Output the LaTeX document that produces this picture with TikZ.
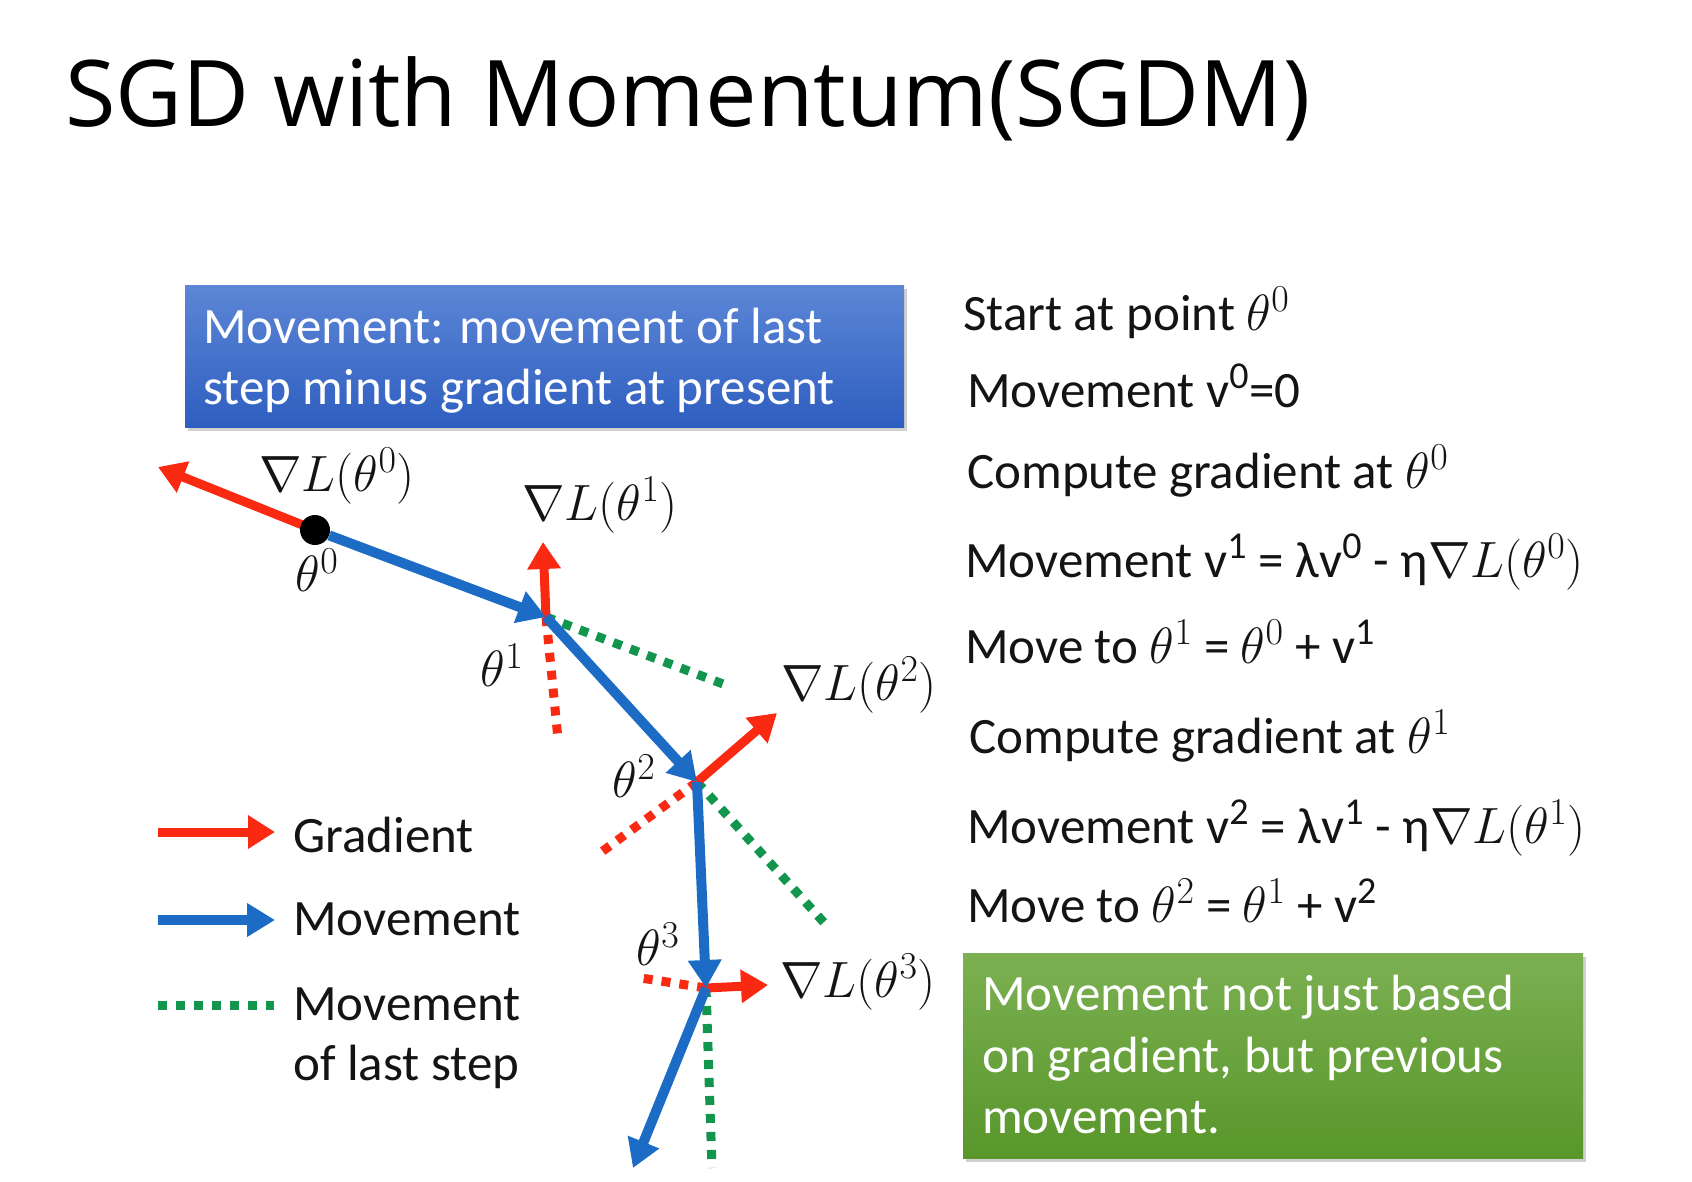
\RequirePackage{fix-cm}
\documentclass[tikz,border=0pt]{standalone}
\usepackage[no-math]{fontspec}
\setmainfont{Carlito}
\newfontfamily\titlefont{Open Sans}
\DeclareMathSizes{51}{51}{38}{30}
\usetikzlibrary{arrows.meta,shadows}
\definecolor{gred}{RGB}{250,42,18}
\definecolor{mblue}{RGB}{28,108,198}
\definecolor{lgreen}{RGB}{18,150,78}
\definecolor{boxblueT}{RGB}{92,134,214}
\definecolor{boxblueB}{RGB}{46,94,192}
\definecolor{boxgreenT}{RGB}{124,176,82}
\definecolor{boxgreenB}{RGB}{88,150,42}
\begin{document}
\begin{tikzpicture}[x=1pt,y=-1pt,
  body/.style={font=\fontsize{51}{61}\selectfont, inner sep=0pt, anchor=base west, text=black!92},
  wbody/.style={body, text=white},
  lab/.style={font=\fontsize{51}{61}\selectfont, inner sep=0pt, text=black!92},
  grad/.style={draw=gred, line width=9pt, -{Triangle[width=32pt,length=27pt]}},
  mov/.style={draw=mblue, line width=10pt, -{Triangle[width=32pt,length=28pt]}},
  last/.style={draw=lgreen, line width=9pt, dash pattern=on 9pt off 9pt},
  ngrad/.style={draw=gred, line width=9pt, dash pattern=on 9pt off 9pt},
  slidebox/.style={inner sep=0pt, anchor=north west,
    drop shadow={shadow xshift=3pt, shadow yshift=-4pt, opacity=0.3, fill=black!60}},
]
\fill[white] (0,0) rectangle (1692,1181);
\useasboundingbox (0,0) rectangle (1692,1181);

% title
\node[anchor=base west, inner sep=0pt, font=\titlefont\fontsize{92}{106}\selectfont] (title) at (65,126) {SGD with Momentum(SGDM)};

% blue box
\node[slidebox, minimum width=719pt, minimum height=142pt, top color=boxblueT, bottom color=boxblueB] (mbox) at (185,285) {};
\node[wbody] (mbox1) at (203,343) {Movement: movement of last};
\node[wbody] (mbox2) at (203,404) {step minus gradient at present};

% green box
\node[slidebox, minimum width=620pt, minimum height=205pt, top color=boxgreenT, bottom color=boxgreenB] (gbox) at (963,953) {};
\node[wbody] (gbox1) at (982,1010) {Movement not just based};
\node[wbody] (gbox2) at (982,1072) {on gradient, but previous};
\node[wbody] (gbox3) at (982,1133) {movement.};

% right-hand steps
\node[body] (s1) at (963,330) {Start at point $\theta^0$};
\node[body] (s2) at (967,407) {Movement v\textsuperscript{0}=0};
\node[body] (s3) at (967,488) {Compute gradient at $\theta^0$};
\node[body] (s4) at (965,577) {Movement v\textsuperscript{1} = λv\textsuperscript{0} - η$\nabla L(\theta^0)$};
\node[body] (s5) at (965,663) {Move to $\theta^1$ = $\theta^0$ + v\textsuperscript{1}};
\node[body] (s6) at (969,753) {Compute gradient at $\theta^1$};
\node[body] (s7) at (967,843) {Movement v\textsuperscript{2} = λv\textsuperscript{1} - η$\nabla L(\theta^1)$};
\node[body] (s8) at (967,922) {Move to $\theta^2$ = $\theta^1$ + v\textsuperscript{2}};

% trajectory points
\coordinate (c0) at (315,530);
\coordinate (p1) at (546,617);
\coordinate (p2) at (697,782);
\coordinate (p3) at (706,988);
\coordinate (g0) at (158,467);
\coordinate (g1) at (543,542);
\coordinate (g2) at (777,713);
\coordinate (g3) at (768,985);
\coordinate (r1) at (558,739);
\coordinate (r2) at (596,856);
\coordinate (r3) at (641,978);
\coordinate (m1) at (723,684);
\coordinate (m2) at (828,927);
\coordinate (m3) at (712,1168);
\coordinate (e4) at (633,1168);

% dotted: movement of last step and negative gradient
\draw[last] (p1) -- (m1);
\draw[last] (p2) -- (m2);
\draw[last] (p3) -- (m3);
\draw[ngrad] (p1) -- (r1);
\draw[ngrad] (p2) -- (r2);
\draw[ngrad] (p3) -- (r3);

% gradients
\draw[grad] (c0) -- (g0);
\draw[grad] (p1) -- (g1);
\draw[grad] (p2) -- (g2);
\draw[grad] (p3) -- (g3);

% start point
\node[circle, fill=black, minimum size=30pt, inner sep=0pt] (p0) at (c0) {};

% movements
\draw[mov] (p0) -- (p1);
\draw[mov] (p1) -- (p2);
\draw[mov] (p2) -- (p3);
\draw[mov] (p3) -- (e4);

% labels
\node[lab] (lg0) at (337,476) {$\nabla L(\theta^0)$};
\node[lab] (lg1) at (600,505) {$\nabla L(\theta^1)$};
\node[lab] (lg2) at (859,685) {$\nabla L(\theta^2)$};
\node[lab] (lg3) at (858,982) {$\nabla L(\theta^3)$};
\node[lab] (lt0) at (317,570) {$\theta^0$};
\node[lab] (lt1) at (502,665) {$\theta^1$};
\node[lab] (lt2) at (634,776) {$\theta^2$};
\node[lab] (lt3) at (658,944) {$\theta^3$};

% legend
\coordinate (la1) at (158,832);
\coordinate (lb1) at (275,832);
\coordinate (la2) at (158,920);
\coordinate (lb2) at (275,920);
\coordinate (la3) at (158,1005);
\coordinate (lb3) at (274,1005);
\draw[grad] (la1) -- (lb1);
\draw[mov] (la2) -- (lb2);
\draw[last] (la3) -- (lb3);
\node[body] (leg1) at (293,852) {Gradient};
\node[body] (leg2) at (293,935) {Movement};
\node[body] (leg3) at (293,1020) {Movement};
\node[body] (leg4) at (293,1080) {of last step};
\end{tikzpicture}
\end{document}
